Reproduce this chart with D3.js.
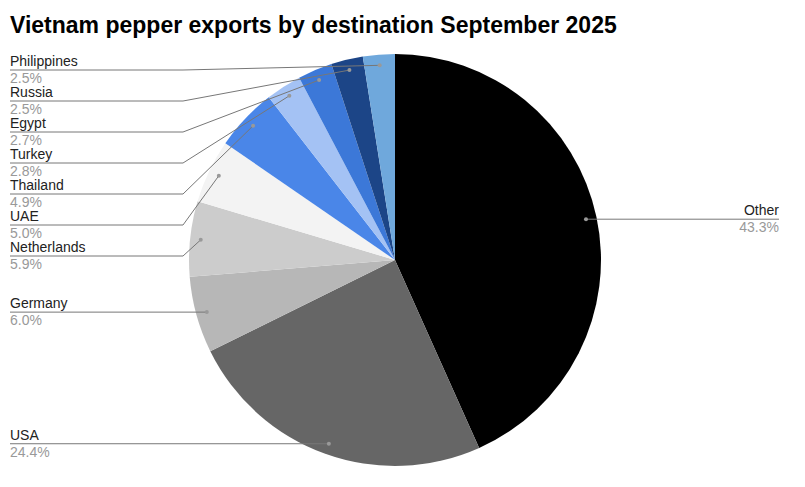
<!DOCTYPE html>
<html><head><meta charset="utf-8">
<script src="https://cdn.jsdelivr.net/npm/d3@7"></script>
<style>body{margin:0;background:#fff}svg{display:block;font-family:"Liberation Sans",Arial,sans-serif}</style>
</head><body><svg id="c" width="805" height="487"></svg>
<script>
const title = "Vietnam pepper exports by destination September 2025";
const categories = ["Other","USA","Germany","Netherlands","UAE","Thailand","Turkey","Egypt","Russia","Philippines"];
const values = [43.3,24.4,6.0,5.9,5.0,4.9,2.8,2.7,2.5,2.5];
const colors = ["#000000","#666666","#b7b7b7","#cccccc","#f3f3f3","#4a86e8","#a4c2f4","#3c78d8","#1c4587","#6fa8dc"];

const svg = d3.select("#c");
const cx = 395, cy = 260, R = 206;
svg.append("text").attr("x",10).attr("y",33).attr("font-size",23).attr("font-weight","bold").attr("fill","#000").text(title);

const data = categories.map((c,i)=>({name:c,value:values[i],color:colors[i]}));
const pie = d3.pie().value(d=>d.value).sort(null);
const arcs = pie(data);
const arc = d3.arc().innerRadius(0).outerRadius(R);
const g = svg.append("g").attr("transform",`translate(${cx},${cy})`);
g.selectAll("path").data(arcs).join("path").attr("d",arc).attr("fill",d=>d.data.color);

const rDot = R*0.948;
const pts = arcs.map(a=>{
  const m=(a.startAngle+a.endAngle)/2;
  return {a, m, x: cx + rDot*Math.sin(m), y: cy - rDot*Math.cos(m)};
});
const left = pts.filter(p=>p.m>Math.PI).sort((p,q)=>p.y-q.y);
let prev = 70-31;
left.forEach(p=>{ p.ly = Math.max(p.y, prev+31, 70); prev = p.ly; });
const right = pts.filter(p=>p.m<=Math.PI);
right.forEach(p=>{ p.ly = p.y; });

const fmt = d3.format(".1f");
const fs = 14;
const lg = svg.append("g");
left.forEach(p=>{
  const elbow = Math.abs(p.ly-p.y)>1 ? 183 : p.x;
  lg.append("polyline").attr("points",`10,${p.ly} ${elbow},${p.ly} ${p.x},${p.y}`)
    .attr("fill","none").attr("stroke","#777").attr("stroke-width",1);
  lg.append("circle").attr("cx",p.x).attr("cy",p.y).attr("r",2).attr("fill","#999");
  lg.append("text").attr("x",10).attr("y",p.ly-4).attr("font-size",fs).attr("fill","#222").text(p.a.data.name);
  lg.append("text").attr("x",10).attr("y",p.ly+13).attr("font-size",fs).attr("fill","#999").text(fmt(p.a.data.value)+"%");
});
right.forEach(p=>{
  lg.append("polyline").attr("points",`${p.x},${p.y} 779,${p.ly}`)
    .attr("fill","none").attr("stroke","#777").attr("stroke-width",1);
  lg.append("circle").attr("cx",p.x).attr("cy",p.y).attr("r",2).attr("fill","#999");
  lg.append("text").attr("x",779).attr("y",p.ly-4).attr("text-anchor","end").attr("font-size",fs).attr("fill","#222").text(p.a.data.name);
  lg.append("text").attr("x",779).attr("y",p.ly+13).attr("text-anchor","end").attr("font-size",fs).attr("fill","#999").text(fmt(p.a.data.value)+"%");
});
</script></body></html>
